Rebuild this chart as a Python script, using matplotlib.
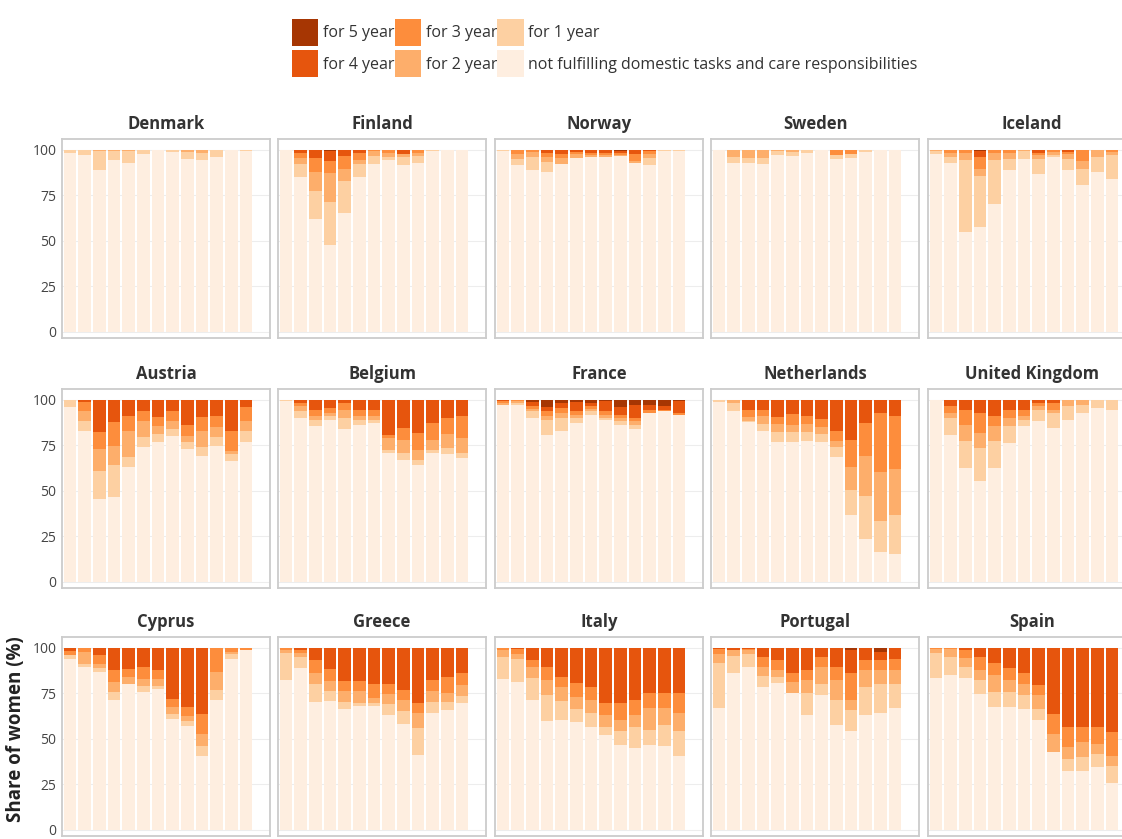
import matplotlib
matplotlib.use("Agg")
import matplotlib.pyplot as plt
import matplotlib.patches as mpatches
import numpy as np

plt.rcParams["font.family"] = ["Open Sans", "DejaVu Sans"]

countries = ["Denmark", "Finland", "Norway", "Sweden", "Iceland",
             "Austria", "Belgium", "France", "Netherlands", "United Kingdom",
             "Cyprus", "Greece", "Italy", "Portugal", "Spain"]

# share of women (%) not working because of care duties, by duration,
# 13 consecutive years per country
for_5 = [
    [0, 0, 0, 0, 0, 0, 0, 0, 0, 0, 0, 0, 0],
    [0, 0, 0.5, 1, 0.5, 0, 0, 0, 0, 0, 0, 0, 0],
    [0, 0, 0, 0.5, 0, 0, 0.5, 0.5, 1, 0, 0, 0, 0],
    [0, 0, 0, 0, 0, 0, 0, 0, 0, 0, 0, 0, 0],
    [0, 0, 0, 1, 0, 0, 0, 0, 0, 0, 0, 0, 0],
    [0, 0, 0, 0, 0, 0, 0, 0, 0, 0, 0, 0, 0],
    [0, 0.5, 0, 0, 0, 0, 0, 0, 0, 0, 0, 0, 0],
    [0, 0, 1.5, 4, 2, 1.5, 2, 1, 4, 3, 3, 3.5, 1],
    [0, 0, 0, 0, 0, 0, 0, 0, 0, 0, 0, 0, 0],
    [0, 0, 0, 0, 0, 0, 0, 0, 0, 0, 0, 0, 0],
    [0, 0, 0, 0, 0, 0, 0, 0, 0, 0, 0, 0, 0],
    [0, 0, 0, 0, 0, 0, 0, 0, 0, 0, 0, 0, 0],
    [0, 0, 0, 0, 0, 0, 0, 0, 0, 0, 0, 0, 0],
    [0, 0.5, 0, 0, 0, 0, 0, 0, 0, 1.5, 0, 2.4, 0],
    [0, 0, 0, 0.5, 0, 0, 0, 0, 0, 0, 0, 0, 0],
]
for_4 = [
    [0, 0, 0, 0, 0, 0, 0, 0, 0, 0, 0, 0, 0],
    [0, 2, 4, 5, 3, 2, 0, 0, 2.2, 0, 0, 0, 0],
    [0, 0.5, 0, 1.5, 2.5, 1.5, 1.3, 1.5, 1, 2.5, 1, 0, 0],
    [0, 0, 0, 0, 0, 0, 0, 0, 0, 0, 0, 0, 0],
    [0, 0, 0, 3, 0, 0, 0, 2, 0, 1.3, 0, 0, 0],
    [0, 1.5, 17.9, 12.4, 8.8, 6, 9.7, 6, 14.2, 9.7, 8.8, 17, 4.2],
    [0, 1.3, 5.5, 4.6, 1.8, 5.5, 5.5, 19.2, 15.5, 18.3, 12.8, 10, 9.1],
    [0.7, 0, 2, 2.4, 2.6, 4.9, 1.7, 5.4, 4.2, 7, 2.5, 2, 6.3],
    [0, 0, 5.7, 5.7, 9.7, 7.8, 8.8, 10.6, 17, 22, 13, 7.5, 8.8],
    [0, 3.7, 5.5, 7.3, 9.1, 5.5, 5.5, 1.8, 1.8, 0, 0, 0, 0],
    [1.8, 0, 4.2, 12.5, 11.6, 10.7, 12.5, 28.2, 32.8, 36.5, 0, 0, 0],
    [0, 1.5, 6.9, 11.6, 18.3, 18.3, 20.2, 20.2, 23, 30.3, 18, 16, 14],
    [0, 1, 6.9, 10.5, 16, 19.6, 21.5, 30.5, 30.5, 28.7, 25.1, 25.1, 25.1],
    [1, 1, 1, 5.1, 6.9, 14.2, 12.4, 5.1, 10.5, 12.7, 6.9, 4.5, 6],
    [0, 0, 1.3, 4.5, 8.7, 11.4, 14.2, 20.6, 36.3, 43.6, 43.6, 43.6, 46.4],
]
for_3 = [
    [0, 0, 0, 0, 0, 0, 0, 0, 0, 0, 0, 0, 0],
    [0, 2.5, 8, 7, 7.3, 3.8, 1, 2, 0, 2, 0, 0, 0],
    [0, 2, 1.5, 2, 2, 1, 1, 1, 1, 4, 1.5, 0, 0],
    [0, 0, 0, 0, 0, 0, 0, 0, 2.7, 2.5, 0, 0, 0],
    [0, 2, 2, 6.4, 2, 2, 0, 1, 1.5, 1, 6, 0, 1.5],
    [0, 5, 9.1, 12.8, 8.2, 5.5, 4.6, 5.5, 5.5, 7.3, 6.4, 11, 7.3],
    [0, 1.5, 3.7, 2.7, 4, 3.7, 3.7, 1.8, 6.4, 9.1, 9.1, 9.1, 11.9],
    [1, 1, 1.5, 2.5, 3, 2, 1.5, 2, 2, 2, 1.8, 0.9, 0.9],
    [0, 0, 3.6, 3.1, 3.6, 6.4, 4.6, 4.6, 5.5, 15, 17.7, 32.3, 29.2],
    [0, 3.7, 8.2, 11, 5.5, 4.6, 3.7, 1.8, 3.7, 0, 0, 0, 0],
    [2.4, 2.4, 4.6, 6.4, 4.6, 6.4, 4.6, 4.6, 4.6, 11, 13.4, 2.4, 1.5],
    [1.5, 1.5, 7.3, 6.8, 5.5, 5.5, 7.3, 5.5, 6, 5.5, 6, 9, 6.4],
    [1.5, 2.3, 4, 7.3, 5.5, 7.3, 7.3, 6.4, 9.1, 8.2, 8.2, 8.2, 10.9],
    [2.3, 0, 0.5, 5.5, 5.5, 4.5, 5.5, 5.5, 7.3, 14.5, 5.5, 5.5, 6.4],
    [1, 1, 4.6, 7.4, 6.4, 6.4, 5.5, 5.5, 11, 11, 8.3, 9.2, 12.9],
]
for_2 = [
    [0, 0.5, 1, 1, 1, 0, 0, 0, 1.5, 2, 0, 0, 0],
    [0, 3.5, 10, 15.5, 6.4, 2, 2.7, 1.8, 2, 1.5, 0, 0, 0],
    [0.5, 2.5, 2.5, 3, 3.5, 2, 1.2, 1, 0.7, 0.8, 2, 0, 0],
    [0, 4, 4.5, 4.5, 1, 1.5, 0.5, 0, 0, 0, 0.5, 0, 0],
    [1, 2, 3.8, 4, 3.8, 2.9, 1, 2, 1.5, 3, 4.4, 4, 1.6],
    [0, 5.5, 11.9, 10.9, 14.6, 9.1, 4.6, 4.6, 3.6, 9.1, 5.5, 1.8, 5.5],
    [0, 2.7, 2, 1.5, 4.2, 2, 2, 6.4, 7.3, 5.5, 5.5, 7.3, 8.2],
    [1, 1, 1.2, 2.1, 2.5, 1.7, 1.2, 1.7, 1.7, 1.7, 0, 0, 0],
    [0.5, 2, 2.2, 4.6, 4.6, 3.6, 4.6, 3.6, 3.6, 12.8, 21.9, 26.5, 25.5],
    [0, 2.7, 9.1, 8.2, 8.2, 4.6, 2, 2, 2, 3.7, 2.7, 0, 0],
    [0, 6.4, 2.3, 5.5, 3.7, 3.7, 3.7, 3.7, 2.8, 6.4, 10.1, 1, 0],
    [1.5, 2, 6, 5.5, 6, 6.4, 3, 5, 6, 8.3, 6, 5, 6],
    [3.5, 3, 6, 8.2, 8, 7, 7, 6.4, 6.4, 6.4, 11.8, 9.1, 10],
    [5, 3, 2, 5, 4, 6.4, 7.2, 9.1, 10.9, 5.5, 9.1, 7.3, 7.3],
    [2.1, 4, 5, 5.5, 9.2, 6.4, 6.4, 7.4, 10.1, 6.4, 8.3, 5.5, 5.5],
]
for_1 = [
    [2, 2.5, 10, 4.5, 6.5, 2.5, 0.5, 1.5, 3.5, 3.5, 4, 0, 1],
    [0, 7, 15.5, 24, 17.4, 7, 4, 2, 4.4, 4, 1, 0, 0],
    [0.5, 3.5, 7, 5.5, 0, 0, 0, 0, 0, 0, 3.7, 1, 1],
    [0, 3.3, 2.8, 3.2, 1.7, 1.8, 1.3, 0, 2.4, 2.1, 1, 0, 0],
    [1.5, 3.6, 39.3, 28, 23.8, 6.4, 3.9, 8.2, 1, 6, 9.1, 8.2, 12.8],
    [4.2, 5, 15.5, 17.3, 5.5, 5.5, 4.6, 3.6, 3.6, 4.6, 4.6, 3.6, 6.4],
    [1, 4, 3.5, 2.2, 6.4, 2.6, 1.7, 1.8, 3.7, 2.7, 1.8, 3.7, 2.7],
    [0, 0.7, 3.8, 8.2, 7.3, 2.7, 1.8, 0.9, 1.8, 2.7, 0, 0, 0],
    [1, 4, 0.9, 3.6, 5.5, 5.5, 4.6, 4.6, 5.5, 13.7, 23.7, 17.3, 21],
    [0, 9.1, 14.6, 18.3, 14.6, 9.1, 3.5, 6.2, 8, 7.3, 4.6, 4.6, 5.5],
    [1.8, 1.8, 2.3, 4.6, 0, 3.7, 2, 2.8, 2.8, 5.5, 5.5, 2.7, 0],
    [15, 6, 9.4, 5.5, 4, 1.8, 1.5, 6, 7, 14.7, 6, 4, 4],
    [12, 12.4, 11.8, 14.5, 10.2, 7, 7.5, 4.5, 7.3, 11.8, 8.2, 11.8, 13.6],
    [25, 9.7, 7, 5.9, 3.2, 0, 11.8, 6.4, 13.6, 11.8, 15.5, 16.4, 13.6],
    [13.8, 10, 6, 7.3, 8.3, 8.3, 7.4, 6.4, 0, 6.4, 7.4, 7.4, 9.2],
]

labels = ["for 5 year", "for 4 year", "for 3 year", "for 2 year", "for 1 year",
          "not fulfilling domestic tasks and care responsibilities"]
colors = ["#a63603", "#e6550d", "#fd8d3c", "#fdae6b", "#fdd0a2", "#feeee0"]

W, H = 1122, 839
fig = plt.figure(figsize=(W / 100, H / 100), dpi=100)
fig.patch.set_facecolor("white")

col_left = [62, 278, 495, 711, 928]
row_top = [139, 389, 637]
panel_w, panel_h = 208, 199

for k, name in enumerate(countries):
    r, c = divmod(k, 5)
    x0, y0 = col_left[c], row_top[r]
    ax = fig.add_axes([x0 / W, 1 - (y0 + panel_h) / H, panel_w / W, panel_h / H])

    layers = [np.array(for_5[k]), np.array(for_4[k]), np.array(for_3[k]),
              np.array(for_2[k]), np.array(for_1[k])]
    rest = 100 - sum(layers)
    stack = [rest] + layers[::-1]
    stack_colors = [colors[5]] + colors[4::-1]
    xs = np.arange(len(rest))
    bottom = np.zeros(len(rest))
    for vals, col in zip(stack, stack_colors):
        ax.bar(xs, vals, bottom=bottom, width=0.86, color=col, linewidth=0, zorder=2)
        bottom += vals

    ax.set_xlim(-0.54, 13.64)
    ax.set_ylim(-3.3, 105.8)
    ax.set_yticks([0, 25, 50, 75, 100])
    ax.set_xticks([])
    ax.grid(axis="y", color="#ededed", linewidth=0.8, zorder=0)
    ax.set_axisbelow(True)
    ax.tick_params(axis="y", length=0, pad=4, labelsize=10, labelcolor="#444444")
    if c != 0:
        ax.set_yticklabels([])
    for sp in ax.spines.values():
        sp.set_color("#cccccc")
        sp.set_linewidth(1.3)
    ax.set_title(name, fontsize=12, fontweight="bold", color="#333333", pad=7)

fig.text(16 / W, 1 - 636 / H, "Share of women (%)", rotation=90, ha="center", va="top",
         fontsize=13.5, fontweight="bold", color="#222222")

handles = [mpatches.Patch(facecolor=col, edgecolor="none") for col in colors]
fig.legend(handles, labels, ncol=3, loc="upper left",
           bbox_to_anchor=(284 / W, 1 - 11 / H), frameon=False,
           fontsize=11.5, handlelength=1.65, handleheight=2.2, handletextpad=0.3,
           labelspacing=0.28, columnspacing=0.0, borderpad=0, labelcolor="#333333")

fig.savefig("out.png", dpi=100)
